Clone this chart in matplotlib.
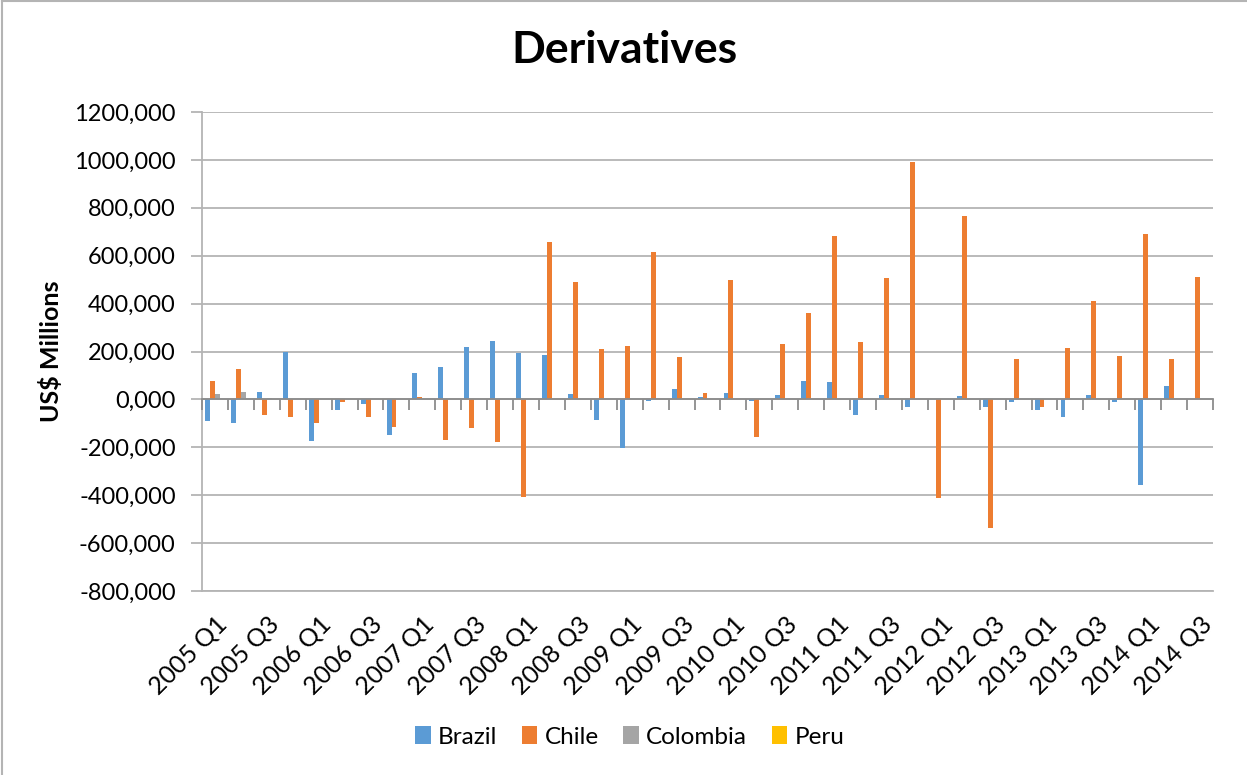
import numpy as np
import matplotlib.pyplot as plt
from matplotlib.ticker import FuncFormatter

plt.rcParams['font.family'] = ['Lato', 'DejaVu Sans']

# Derivatives, US$ millions, 2005 Q1 - 2014 Q3
quarters = [f'{y} Q{q}' for y in range(2005, 2015) for q in range(1, 5)][:39]

brazil = [-90, -97, 29, 200, -174, -44, -18, -147, 111, 136, 217, 244, 193,
          185, 21, -87, -204, -8, 43, 12, 26, -8, 19, 76, 74, -67,
          18, -31, 0, 15, -31, -11, -46, -74, 18, -11, -356, 56, 0]
chile = [76, 126, -67, -75, -99, -11, -72, -115, 11, -169, -118, -176, -406,
         657, 490, 211, 225, 616, 179, 28, 499, -157, 231, 361, 683, 240,
         507, 991, -412, 767, -536, 168, -32, 214, 412, 182, 689, 167, 510]
colombia = [22, 29, 5, 3, 1, 0, 3, 3, 0, 0, 0, 0, 0,
            0, 0, 0, 0, 0, 0, 0, 0, 0, 0, 0, 0, 0,
            0, 0, 0, 0, 0, 0, 0, 0, 0, 0, 0, 0, 0]
peru = [0] * 39

series = [('Brazil', brazil, '#5B9BD5'), ('Chile', chile, '#ED7D31'),
          ('Colombia', colombia, '#A5A5A5'), ('Peru', peru, '#FFC000')]

fig = plt.figure(figsize=(12.47, 7.75), dpi=100)
ax = fig.add_axes([0.162, 0.2374, 0.8107, 0.6181])

x = np.arange(len(quarters))
w = 0.19
for i, (name, vals, col) in enumerate(series):
  ax.bar(x + (i - 1.5) * w, vals, width=w, color=col, label=name, zorder=3)

ax.set_xlim(-0.5, len(quarters) - 0.5)
ax.set_ylim(-800, 1200)
ax.set_yticks(np.arange(-800, 1201, 200))
ax.yaxis.set_major_formatter(FuncFormatter(lambda v, p: f'{v:.0f},000'))
ax.grid(axis='y', color='#B4B4B4', linewidth=1.3, zorder=0)
ax.tick_params(axis='y', length=8, color='#B4B4B4', width=1.3, labelsize=17, pad=11)

ax.set_xticks(x[::2])
ax.set_xticklabels(quarters[::2], rotation=45, ha='right', rotation_mode='anchor', fontsize=18)
ax.tick_params(axis='x', length=0, pad=15)

for s in ['top', 'right']:
  ax.spines[s].set_visible(False)
ax.spines['left'].set_color('#B4B4B4')
ax.spines['left'].set_linewidth(1.3)
ax.spines['bottom'].set_color('#B4B4B4')
ax.spines['bottom'].set_linewidth(1.3)

# zero line with category tick marks
zero = ax.secondary_xaxis(0.4)
zero.set_xticks(np.arange(-0.5, len(quarters), 1))
zero.tick_params(axis='x', length=8, color='#8C8C8C', width=1.3, labelbottom=False)
zero.spines['bottom'].set_color('#8C8C8C')
zero.spines['bottom'].set_linewidth(1.3)
zero.set_zorder(4)

ax.set_ylabel('US$ Millions', fontsize=18, fontweight='bold', labelpad=8)
fig.text(0.501, 0.9355, 'Derivatives', ha='center', va='center', fontsize=32, fontweight='bold')

fig.legend(loc='center', bbox_to_anchor=(0.505, 0.049), ncol=4, frameon=False,
           fontsize=17.5, handlelength=0.65, handleheight=0.75, handletextpad=0.3, columnspacing=1.0)

fig.add_artist(plt.Line2D([0.002, 0.002], [0, 0.999], color='#B4B4B4', linewidth=1.5))
fig.add_artist(plt.Line2D([0.002, 1], [0.999, 0.999], color='#B4B4B4', linewidth=1.5))

plt.savefig('out.png', dpi=100)
